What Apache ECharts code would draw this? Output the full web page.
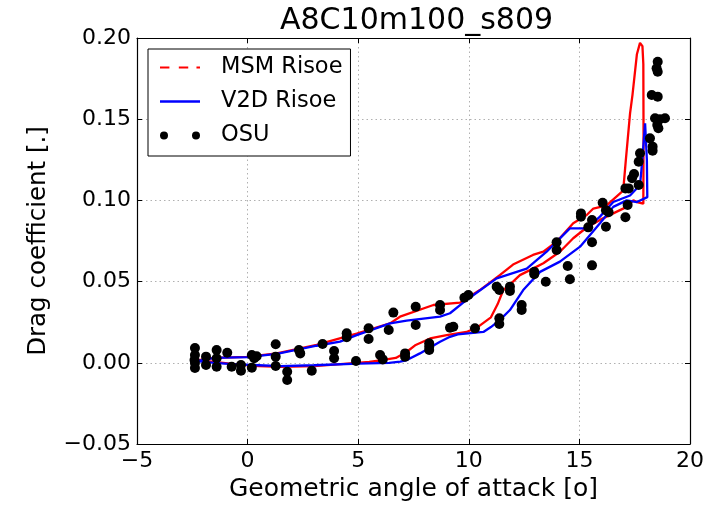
<!DOCTYPE html>
<html>
<head>
<meta charset="utf-8">
<script src="https://cdn.jsdelivr.net/npm/echarts@6/dist/echarts.min.js"></script>
<style>
  html, body { margin: 0; padding: 0; background: #fff; }
  #chart { width: 720px; height: 508px; }
</style>
</head>
<body>
<div id="chart"></div>
<script>
// Axis ticks
const xTickValues = [-5, 0, 5, 10, 15, 20];
const xTickLabels = ['\u22125', '0', '5', '10', '15', '20'];
const yTickValues = [-0.05, 0, 0.05, 0.10, 0.15, 0.20];
const yTickLabels = ['\u22120.05', '0.00', '0.05', '0.10', '0.15', '0.20'];

// MSM Risoe hysteresis loop (angle of attack, drag coefficient)
const msmAlpha = [-2.3, -1.5, -0.5, 0.5, 1.5, 3.0, 4.5, 5.5, 6.0, 6.7, 7.2, 7.6, 8.25, 9.0, 9.9, 10.4, 11.0, 11.3, 11.56, 12.0, 12.31, 12.9, 13.37, 14.12, 14.72, 15.3, 15.93, 16.53, 17.14, 17.44, 17.6, 17.89,
  17.9, 17.89, 17.85, 17.74, 17.6, 17.4, 17.29, 17.1, 16.98,
  16.23, 15.63, 15.33, 14.72, 13.97, 13.37, 12.9, 12.0, 11.4, 10.5, 9.6, 8.4, 6.89, 6.44, 4.93, 3.12, 1.32, -0.04, -1.5, -2.3];
const msmCd = [0.0015, 0.0005, -0.001, -0.002, -0.0025, -0.002, -0.0005, 0.0005, 0.0015, 0.003, 0.0068, 0.011, 0.015, 0.017, 0.019, 0.022, 0.028, 0.036, 0.0448, 0.050, 0.054, 0.058, 0.0613, 0.0684, 0.0767, 0.083, 0.088, 0.092, 0.096, 0.100, 0.099, 0.098,
  0.14, 0.184, 0.195, 0.197, 0.19, 0.165, 0.1536, 0.125, 0.106,
  0.097, 0.095, 0.091, 0.0859, 0.0746, 0.0684, 0.0664, 0.0605, 0.054, 0.0448, 0.037, 0.0356, 0.0284, 0.0243, 0.018, 0.011, 0.0058, 0.0036, 0.003, 0.0015];

// V2D Risoe hysteresis loop
const v2dAlpha = [-2.3, -1.5, -0.5, 0.5, 1.5, 3.0, 5.0, 6.4, 6.9, 7.2, 7.79, 8.7, 9.15, 9.5, 10.66, 11.0, 11.41, 11.86, 12.46, 13.22, 14.12, 15.03, 15.93, 16.53, 17.14, 17.6, 18.07,
  18.05, 17.97, 17.9, 17.8, 17.74,
  17.29, 16.53, 15.93, 15.33, 14.57, 13.52, 12.62, 11.26, 9.9, 9.15, 8.7, 7.19, 6.44, 4.93, 4.18, 3.12, 1.32, 0.0, -1.5, -2.3];
const v2dCd = [0.001, 0.0, -0.001, -0.0015, -0.002, -0.0015, -0.0005, 0.0, 0.0007, 0.0017, 0.0058, 0.013, 0.016, 0.0175, 0.019, 0.022, 0.0264, 0.0325, 0.0448, 0.056, 0.0623, 0.0715, 0.0859, 0.096, 0.100, 0.099, 0.102,
  0.125, 0.1475, 0.135, 0.118, 0.1095,
  0.103, 0.099, 0.090, 0.0828, 0.0828, 0.0684, 0.058, 0.052, 0.0387, 0.0305, 0.0284, 0.026, 0.0243, 0.017, 0.013, 0.0105, 0.0055, 0.0035, 0.003, 0.001];

// OSU measurements
const osuAlpha = [-2.38, -2.38, -2.4, -2.38, -2.38, -1.88, -1.88, -1.4, -1.4, -1.4, -0.92, -0.72, -0.3, -0.3, 0.19, 0.41, 0.19, 0.3,
  1.27, 1.27, 1.27, 1.79, 1.79, 2.32, 2.38, 2.9, 3.39, 3.91, 3.91, 4.48, 4.48, 4.9, 5.47, 5.47, 5.99, 6.11, 6.38, 6.59,
  7.12, 7.12, 7.6, 7.6, 8.21, 8.21, 8.21, 8.7, 8.7, 9.15, 9.3, 9.8, 9.98, 10.28, 11.26, 11.38, 11.38, 11.38, 11.86, 11.86,
  12.39, 12.39, 12.96, 12.96, 13.48, 13.97, 13.97, 14.47, 14.57, 15.07, 15.07, 15.4, 15.57, 15.57, 15.57, 16.05, 16.2, 16.32, 16.2,
  17.08, 17.23, 17.18, 17.08, 17.68, 17.74, 17.68, 17.47, 17.38,
  18.54, 18.49, 18.54, 18.27, 18.54, 18.42, 18.64, 18.87, 18.52, 18.57, 18.19, 18.31, 18.31];
const osuCd = [0.0091, 0.0048, 0.0017, -0.0001, -0.0032, 0.0038, -0.0014, 0.0079, 0.0028, -0.0024, 0.0062, -0.0024, -0.0014, -0.0049, 0.0048, 0.004, -0.003, 0.0028,
  0.0114, 0.0038, -0.002, -0.0055, -0.0106, 0.0079, 0.0058, -0.0049, 0.0116, 0.0073, 0.0028, 0.0182, 0.0157, 0.0011, 0.0212, 0.0147, 0.0048, 0.0021, 0.0202, 0.0309,
  0.0058, 0.0038, 0.0345, 0.0233, 0.012, 0.0099, 0.0079, 0.0356, 0.0325, 0.0216, 0.0222, 0.0401, 0.0417, 0.0212, 0.0469, 0.0448, 0.0274, 0.0239, 0.0469, 0.0442,
  0.0356, 0.0325, 0.056, 0.0545, 0.0499, 0.0742, 0.0695, 0.0596, 0.0514, 0.092, 0.09, 0.0834, 0.0879, 0.0742, 0.06, 0.0986, 0.094, 0.0927, 0.0838,
  0.1074, 0.1074, 0.0972, 0.0896, 0.1095, 0.129, 0.1238, 0.1163, 0.1136,
  0.1854, 0.1813, 0.1792, 0.1649, 0.1639, 0.1506, 0.15, 0.1506, 0.1464, 0.1444, 0.1382, 0.1331, 0.1306];

const zip = (xs, ys) => xs.map((x, i) => [x, ys[i]]);
const FONT = 'DejaVu Sans';

function tickLabel(values, labels) {
  return v => {
    const i = values.findIndex(t => Math.abs(t - v) < 1e-9);
    return i >= 0 ? labels[i] : '';
  };
}

const gridLine = { show: true, lineStyle: { color: '#b0b0b0', type: [1.5, 3], width: 1 } };
const tick = { show: true, inside: true, length: 5, lineStyle: { color: '#000', width: 1 } };
const axisLine = { show: true, onZero: false, lineStyle: { color: '#000', width: 1.2 } };

const chart = echarts.init(document.getElementById('chart'), null, { renderer: 'canvas' });
chart.setOption({
  animation: false,
  backgroundColor: '#fff',
  title: {
    text: 'A8C10m100_s809',
    left: 275, top: 1,
    textStyle: { fontFamily: FONT, fontSize: 30, fontWeight: 'normal', color: '#000' }
  },
  grid: { left: 137, right: 30, top: 38, bottom: 64, show: false },
  xAxis: [{
    type: 'value', min: -5, max: 20, interval: 5, position: 'bottom',
    axisLine, axisTick: tick, splitLine: gridLine,
    axisLabel: { formatter: tickLabel(xTickValues, xTickLabels), fontFamily: FONT, fontSize: 22, color: '#000', margin: 6 },
    name: 'Geometric angle of attack [o]', nameLocation: 'middle', nameGap: 33,
    nameTextStyle: { fontFamily: FONT, fontSize: 25, color: '#000' }
  }, {
    type: 'value', min: -5, max: 20, interval: 5, position: 'top',
    axisLine, axisTick: tick, splitLine: { show: false }, axisLabel: { show: false }
  }],
  yAxis: [{
    type: 'value', min: -0.05, max: 0.2, interval: 0.05, position: 'left',
    axisLine, axisTick: tick, splitLine: gridLine,
    axisLabel: { formatter: tickLabel(yTickValues, yTickLabels), fontFamily: FONT, fontSize: 22, color: '#000', margin: 6 },
    name: 'Drag coefficient [.]', nameLocation: 'middle', nameGap: 86,
    nameTextStyle: { fontFamily: FONT, fontSize: 24.5, color: '#000' }
  }, {
    type: 'value', min: -0.05, max: 0.2, interval: 0.05, position: 'right',
    axisLine, axisTick: tick, splitLine: { show: false }, axisLabel: { show: false }
  }],
  legend: {
    orient: 'vertical', left: 148, top: 49,
    padding: [6, 8, 8, 12], itemGap: 9,
    itemWidth: 40, itemHeight: 10, symbolKeepAspect: true,
    borderColor: '#000', borderWidth: 1, borderRadius: 0, backgroundColor: '#fff',
    textStyle: { fontFamily: FONT, fontSize: 22.5, color: '#000', lineHeight: 25, padding: [0, 0, 0, 16] },
    data: [
      { name: 'MSM Risoe', icon: 'path://M0,0h8v1.6h-8z M16,0h8v1.6h-8z M31,0h3v1.6h-3z' },
      { name: 'V2D Risoe', icon: 'path://M0,0h34v2h-34z' },
      { name: 'OSU', icon: 'path://M0,4a4,4 0 1,0 8,0a4,4 0 1,0 -8,0z M32,4a4,4 0 1,0 8,0a4,4 0 1,0 -8,0z' }
    ]
  },
  series: [
    {
      name: 'MSM Risoe', type: 'line', data: zip(msmAlpha, msmCd),
      showSymbol: false, symbol: 'none', smooth: false,
      lineStyle: { color: '#ff0000', width: 2.3 }, itemStyle: { color: '#ff0000' }, z: 2
    },
    {
      name: 'V2D Risoe', type: 'line', data: zip(v2dAlpha, v2dCd),
      showSymbol: false, symbol: 'none', smooth: false,
      lineStyle: { color: '#0000ff', width: 2.3 }, itemStyle: { color: '#0000ff' }, z: 3
    },
    {
      name: 'OSU', type: 'scatter', data: zip(osuAlpha, osuCd),
      symbol: 'circle', symbolSize: 10,
      itemStyle: { color: '#000', opacity: 1 }, z: 4
    }
  ]
});
</script>
</body>
</html>
